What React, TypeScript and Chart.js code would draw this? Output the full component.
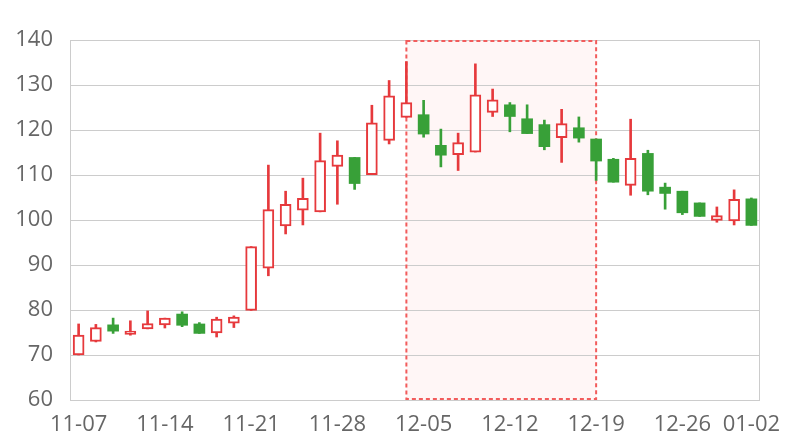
import React, { useEffect, useRef } from 'react';
import { Chart, registerables } from 'chart.js';

Chart.register(...registerables);

const dates = [
  '11-07', '11-08', '11-09', '11-10', '11-11',
  '11-14', '11-15', '11-16', '11-17', '11-18',
  '11-21', '11-22', '11-23', '11-24', '11-25',
  '11-28', '11-29', '11-30', '12-01', '12-02',
  '12-05', '12-06', '12-07', '12-08', '12-09',
  '12-12', '12-13', '12-14', '12-15', '12-16',
  '12-19', '12-20', '12-21', '12-22', '12-23',
  '12-26', '12-27', '12-28', '12-29', '01-02',
];

const opens = [
  70.0, 73.0, 76.7, 74.6, 75.8, 76.7, 79.1, 76.9, 74.9, 77.1,
  79.9, 89.3, 98.7, 102.2, 101.8, 111.9, 113.9, 110.1, 117.7, 122.8,
  123.4, 116.6, 114.5, 115.1, 123.9, 125.6, 122.5, 121.2, 118.3, 120.5,
  118.0, 113.5, 107.7, 114.8, 107.3, 106.4, 103.8, 99.9, 99.8, 104.7,
];
const closes = [
  74.4, 76.1, 75.3, 75.3, 77.0, 78.2, 76.6, 74.8, 78.0, 78.4,
  94.1, 102.3, 103.5, 104.8, 113.2, 114.4, 108.1, 121.6, 127.6, 126.1,
  119.1, 114.4, 117.2, 127.8, 126.7, 123.0, 119.2, 116.3, 121.4, 118.2,
  113.1, 108.4, 113.7, 106.4, 105.9, 101.6, 100.8, 101.0, 104.6, 98.8,
];
const highs = [
  76.9, 76.8, 78.2, 77.6, 79.8, 78.2, 79.6, 77.2, 78.4, 78.7,
  94.1, 112.2, 106.4, 109.3, 119.3, 117.6, 113.9, 125.5, 131.0, 135.2,
  126.6, 120.2, 119.3, 134.7, 129.1, 126.1, 125.6, 122.2, 124.6, 122.9,
  118.0, 113.7, 122.4, 115.5, 108.2, 106.4, 103.8, 102.9, 106.7, 104.9,
];
const lows = [
  70.0, 72.9, 74.8, 74.4, 75.8, 76.0, 76.3, 74.8, 74.0, 76.1,
  79.9, 87.6, 96.9, 98.9, 101.8, 103.5, 106.8, 110.1, 116.9, 122.8,
  118.4, 111.8, 111.0, 115.1, 123.0, 119.6, 119.2, 115.6, 112.8, 117.3,
  108.8, 108.4, 105.5, 105.6, 102.4, 101.2, 100.8, 99.5, 98.9, 98.8,
];

const xTickLabels = ['11-07', '11-14', '11-21', '11-28', '12-05', '12-12', '12-19', '12-26', '01-02'];
const yMin = 60;
const yMax = 140;
const yStep = 10;
const markRange = ['12-02', '12-19'];

const UP = '#e6393c';
const DOWN = '#38a038';
const GRID = '#cccccc';
const TEXT = '#666666';

const markAreaPlugin = {
  id: 'markArea',
  beforeDraw(chart: any) {
    const { ctx, chartArea, scales } = chart;
    const x = scales.x;
    const x1 = x.getPixelForValue(dates.indexOf(markRange[0]));
    const x2 = x.getPixelForValue(dates.indexOf(markRange[1]));
    ctx.save();
    ctx.fillStyle = '#fff6f6';
    ctx.fillRect(x1, chartArea.top, x2 - x1, chartArea.bottom - chartArea.top);
    ctx.restore();
  },
  beforeDatasetsDraw(chart: any) {
    const { ctx, chartArea, scales } = chart;
    const x = scales.x;
    // frame verticals
    ctx.save();
    ctx.strokeStyle = GRID;
    ctx.lineWidth = 1;
    ctx.beginPath();
    ctx.moveTo(Math.round(chartArea.left) + 0.5, chartArea.top);
    ctx.lineTo(Math.round(chartArea.left) + 0.5, chartArea.bottom);
    ctx.moveTo(Math.round(chartArea.right) - 0.5, chartArea.top);
    ctx.lineTo(Math.round(chartArea.right) - 0.5, chartArea.bottom);
    ctx.stroke();
    // mark area dashed border
    const x1 = x.getPixelForValue(dates.indexOf(markRange[0]));
    const x2 = x.getPixelForValue(dates.indexOf(markRange[1]));
    ctx.strokeStyle = '#f25c5c';
    ctx.lineWidth = 2;
    ctx.setLineDash([4, 3]);
    ctx.strokeRect(x1, chartArea.top + 1, x2 - x1, chartArea.bottom - chartArea.top - 2);
    ctx.restore();
  },
};

export default function App() {
  const ref = useRef<HTMLCanvasElement | null>(null);

  useEffect(() => {
    if (!ref.current) return;
    const isUp = opens.map((o, i) => closes[i] >= o);
    const chart = new Chart(ref.current, {
      type: 'bar',
      data: {
        labels: dates,
        datasets: [
          {
            label: 'wick',
            data: dates.map((_, i) => [lows[i], highs[i]]) as any,
            backgroundColor: isUp.map((u) => (u ? UP : DOWN)),
            borderWidth: 0,
            barThickness: 2,
            grouped: false,
            order: 2,
          } as any,
          {
            label: 'body',
            data: dates.map((_, i) => [opens[i], closes[i]]) as any,
            backgroundColor: isUp.map((u) => (u ? '#ffffff' : DOWN)),
            borderColor: isUp.map((u) => (u ? UP : DOWN)),
            borderWidth: isUp.map((u) => (u ? 2 : 0)),
            borderSkipped: false,
            barThickness: 11,
            grouped: false,
            order: 1,
          } as any,
        ],
      },
      options: {
        responsive: false,
        animation: false,
        layout: { padding: { top: 40, right: 40, left: 0, bottom: 0 } },
        plugins: {
          legend: { display: false },
          tooltip: { enabled: false },
        },
        scales: {
          x: {
            type: 'category',
            offset: true,
            grid: { display: false, drawTicks: false },
            border: { display: false },
            ticks: {
              autoSkip: false,
              maxRotation: 0,
              minRotation: 0,
              padding: 12,
              color: TEXT,
              font: { family: '"Open Sans", sans-serif', size: 22 },
              callback: (_v: any, i: number) => (xTickLabels.includes(dates[i]) ? dates[i] : ''),
            },
            afterFit: (s: any) => {
              s.height = 40;
              s.paddingLeft = 0;
              s.paddingRight = 0;
            },
          },
          y: {
            min: yMin,
            max: yMax,
            grid: { color: GRID, drawTicks: false },
            border: { display: false },
            ticks: {
              stepSize: yStep,
              padding: 17,
              color: TEXT,
              font: { family: '"Open Sans", sans-serif', size: 22 },
            },
            afterFit: (s: any) => {
              s.width = 70;
              s.paddingTop = 0;
              s.paddingBottom = 0;
            },
          },
        },
      },
      plugins: [markAreaPlugin],
    });
    return () => chart.destroy();
  }, []);

  return (
    <div style={{ position: 'absolute', left: 0, top: 0, width: 800, height: 440 }}>
      <canvas ref={ref} width={800} height={440} />
    </div>
  );
}
